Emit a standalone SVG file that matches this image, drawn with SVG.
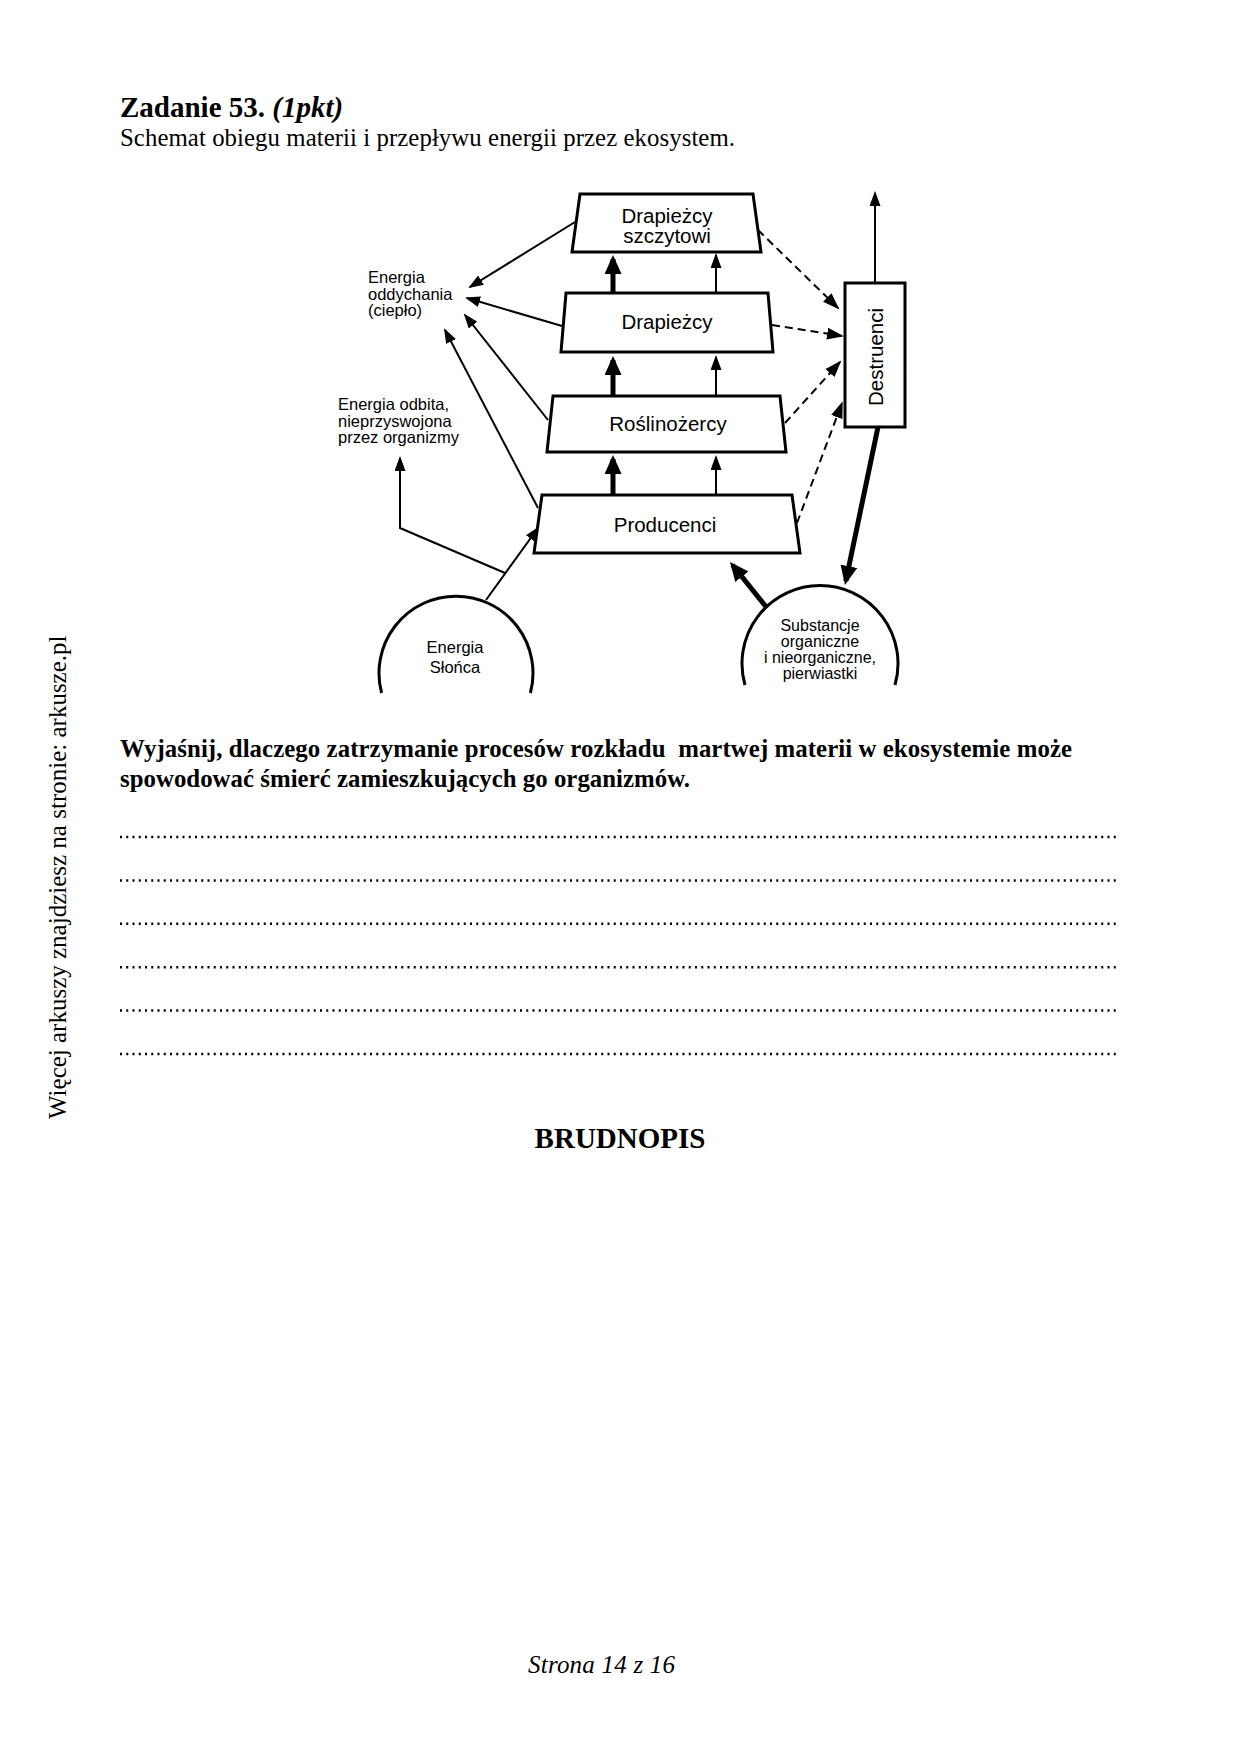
<svg xmlns="http://www.w3.org/2000/svg" width="1240" height="1755" viewBox="0 0 1240 1755">
<style>
.serif{font-family:"Liberation Serif","Times New Roman",serif;fill:#000}
.sans{font-family:"Liberation Sans",Arial,sans-serif;fill:#000}
.box{fill:#fff;stroke:#000;stroke-width:3;stroke-linejoin:miter}
.circ{fill:none;stroke:#000;stroke-width:3}
.thin{fill:none;stroke:#000;stroke-width:2;marker-end:url(#ah)}
.thick{fill:none;stroke:#000;stroke-width:5;marker-end:url(#ahk)}
.dash{fill:none;stroke:#000;stroke-width:2;stroke-dasharray:8 5;marker-end:url(#ahd)}
.dots{stroke:#000;stroke-width:2.5;stroke-dasharray:2 4.25}
.lbl{font-size:20.5px;text-anchor:middle}
.small{font-size:16.5px}
</style>
<defs>
<marker id="ah" markerUnits="userSpaceOnUse" markerWidth="16" markerHeight="12" refX="13" refY="5.5" orient="auto"><path d="M0,0 L15,5.5 L0,11 z" fill="#000"/></marker>
<marker id="ahk" markerUnits="userSpaceOnUse" markerWidth="20" markerHeight="18" refX="15" refY="8.5" orient="auto"><path d="M0,0 L19,8.5 L0,17 z" fill="#000"/></marker>
<marker id="ahd" markerUnits="userSpaceOnUse" markerWidth="18" markerHeight="13" refX="15" refY="6" orient="auto"><path d="M0,0 L17,6 L0,12 z" fill="#000"/></marker>
</defs>
<rect width="1240" height="1755" fill="#fff"/>

<!-- page text -->
<text class="serif" x="120" y="117" font-size="29" font-weight="bold">Zadanie 53. <tspan font-style="italic">(1pkt)</tspan></text>
<text class="serif" x="120" y="146" font-size="24.8" textLength="615">Schemat obiegu materii i przepływu energii przez ekosystem.</text>
<text class="serif" transform="translate(66,1119) rotate(-90)" font-size="25">Więcej arkuszy znajdziesz na stronie: arkusze.pl</text>

<!-- connectors -->
<g id="connectors">
<line class="thin" x1="575" y1="222" x2="470" y2="287"/>
<line class="thin" x1="562" y1="326" x2="467" y2="298"/>
<line class="thin" x1="548" y1="420" x2="465" y2="315"/>
<line class="thin" x1="538" y1="508" x2="445" y2="330"/>
<line class="thin" x1="486" y1="600" x2="538" y2="528"/>
<polyline class="thin" points="505,573 400,528 400,458"/>
<line class="thin" x1="716" y1="495" x2="716" y2="457"/>
<line class="thin" x1="716" y1="396" x2="716" y2="357"/>
<line class="thin" x1="716" y1="293" x2="716" y2="255"/>
<line class="thin" x1="875" y1="283" x2="875" y2="193"/>
<line class="thick" x1="613" y1="495" x2="613" y2="459"/>
<line class="thick" x1="613" y1="396" x2="613" y2="360"/>
<line class="thick" x1="613" y1="293" x2="613" y2="259"/>
<line class="thick" x1="767" y1="608" x2="732.5" y2="565"/>
<line class="thick" stroke-width="4" x1="878" y1="427" x2="845.8" y2="581"/>
<line class="dash" x1="758" y1="230" x2="838" y2="308"/>
<line class="dash" x1="772" y1="325" x2="842" y2="336"/>
<line class="dash" x1="785" y1="423" x2="840" y2="362"/>
<line class="dash" x1="797" y1="523" x2="842" y2="403"/>
</g>

<!-- nodes -->
<g id="drapiezcy-szczytowi">
<polygon class="box" points="580,194 753,194 761,252 572,252"/>
<text class="sans lbl" x="667" y="223">Drapieżcy</text>
<text class="sans lbl" x="667" y="243">szczytowi</text>
</g>
<g id="drapiezcy">
<polygon class="box" points="566,293 768,293 773,352 561,352"/>
<text class="sans lbl" x="667" y="329">Drapieżcy</text>
</g>
<g id="roslinozercy">
<polygon class="box" points="553,396 780,396 786,452 547,452"/>
<text class="sans lbl" x="668" y="431">Roślinożercy</text>
</g>
<g id="producenci">
<polygon class="box" points="542,495 792,495 800,553 534,553"/>
<text class="sans lbl" x="665" y="532">Producenci</text>
</g>
<g id="destruenci">
<rect class="box" x="845" y="283" width="60" height="144"/>
<text class="sans lbl" transform="translate(883,357) rotate(-90)" x="0" y="0">Destruenci</text>
</g>
<g id="energia-slonca">
<path class="circ" d="M381.6,693 A77,77 0 1 1 530.4,693"/>
<text class="sans small" text-anchor="middle" x="455" y="653">Energia</text>
<text class="sans small" text-anchor="middle" x="455" y="673">Słońca</text>
</g>
<g id="substancje">
<path class="circ" d="M745,685 A78,78 0 1 1 895,685"/>
<text class="sans" font-size="16" text-anchor="middle" x="820" y="631">Substancje</text>
<text class="sans" font-size="16" text-anchor="middle" x="820" y="647">organiczne</text>
<text class="sans" font-size="16" text-anchor="middle" x="820" y="663">i nieorganiczne,</text>
<text class="sans" font-size="16" text-anchor="middle" x="820" y="679">pierwiastki</text>
</g>
<g id="energia-oddychania">
<text class="sans small" x="368" y="283">Energia</text>
<text class="sans small" x="368" y="299.5">oddychania</text>
<text class="sans small" x="368" y="316">(ciepło)</text>
</g>
<g id="energia-odbita">
<text class="sans small" x="338" y="410">Energia odbita,</text>
<text class="sans small" x="338" y="427">nieprzyswojona</text>
<text class="sans small" x="338" y="443">przez organizmy</text>
</g>

<!-- question -->
<text class="serif" xml:space="preserve" x="120" y="757" font-size="24.8" font-weight="bold" textLength="952">Wyjaśnij, dlaczego zatrzymanie procesów rozkładu  martwej materii w ekosystemie może</text>
<text class="serif" x="120" y="787" font-size="24.8" font-weight="bold" textLength="570">spowodować śmierć zamieszkujących go organizmów.</text>

<g id="answer-lines">
<line class="dots" x1="120" y1="837" x2="1117" y2="837"/>
<line class="dots" x1="120" y1="880.4" x2="1117" y2="880.4"/>
<line class="dots" x1="120" y1="923.8" x2="1117" y2="923.8"/>
<line class="dots" x1="120" y1="967.2" x2="1117" y2="967.2"/>
<line class="dots" x1="120" y1="1010.6" x2="1117" y2="1010.6"/>
<line class="dots" x1="120" y1="1054" x2="1117" y2="1054"/>
</g>

<text class="serif" x="620" y="1148" font-size="29" font-weight="bold" text-anchor="middle">BRUDNOPIS</text>
<text class="serif" x="528" y="1673" font-size="25" font-style="italic" textLength="147">Strona 14 z 16</text>
</svg>
